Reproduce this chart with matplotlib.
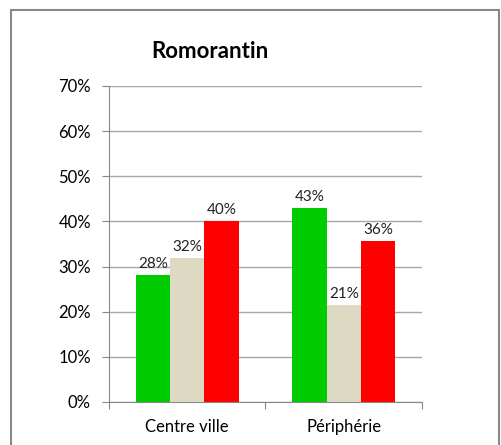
import matplotlib
matplotlib.use("Agg")
import matplotlib.pyplot as plt
from matplotlib.patches import Rectangle
import numpy as np

categories = ["Centre ville", "Périphérie"]
series_green = [28.1, 42.9]
series_beige = [31.9, 21.4]
series_red = [40.0, 35.7]
series_labels = [["28%", "43%"], ["32%", "21%"], ["40%", "36%"]]
yticks = [0, 10, 20, 30, 40, 50, 60, 70]
title = "Romorantin"

plt.rcParams['font.family'] = ['Lato', 'DejaVu Sans']

fig = plt.figure(figsize=(5.02, 4.45), dpi=100)
fig.patches.append(Rectangle((11/502, -0.05), (499-11)/502, 1.05 - 10/445,
                             transform=fig.transFigure, fill=False,
                             edgecolor="#888888", linewidth=1.5))
ax = fig.add_axes([109/502, 1-402/445, (422-109)/502, (402-86)/445])

x = np.arange(len(categories))
w = 0.22
colors = ["#00CC00", "#DDD9C3", "#FF0000"]
for i, (vals, col) in enumerate(zip([series_green, series_beige, series_red], colors)):
    xs = x + (i - 1) * w
    ax.bar(xs, vals, width=w, color=col, zorder=3)
    for xi, v, lab in zip(xs, vals, series_labels[i]):
        ax.annotate(lab, (xi, v), xytext=(0, 3), textcoords="offset points",
                    ha="center", va="bottom", fontsize=11, color="#222222")

ax.set_xlim(-0.5, 1.5)
ax.set_ylim(0, 70)
ax.set_yticks(yticks)
ax.set_yticklabels([f"{t}%" for t in yticks], fontsize=12)
ax.yaxis.grid(True, color="#A6A6A6", linewidth=1, zorder=0)
ax.set_axisbelow(True)
ax.set_xticks([-0.5, 0.5, 1.5])
ax.set_xticklabels([])
ax.set_xticks(x, minor=True)
ax.set_xticklabels(categories, minor=True, fontsize=12)
ax.tick_params(axis="x", which="minor", length=0, pad=12)
ax.tick_params(axis="x", which="major", length=5, color="#888888")
ax.tick_params(axis="y", length=5, color="#888888", pad=8)
for s in ["top", "right"]:
    ax.spines[s].set_visible(False)
for s in ["left", "bottom"]:
    ax.spines[s].set_color("#888888")

fig.text(210/502, 1-51/445, title, ha="center", va="center",
         fontsize=16, fontweight="bold")

fig.savefig("out.png", dpi=100)
